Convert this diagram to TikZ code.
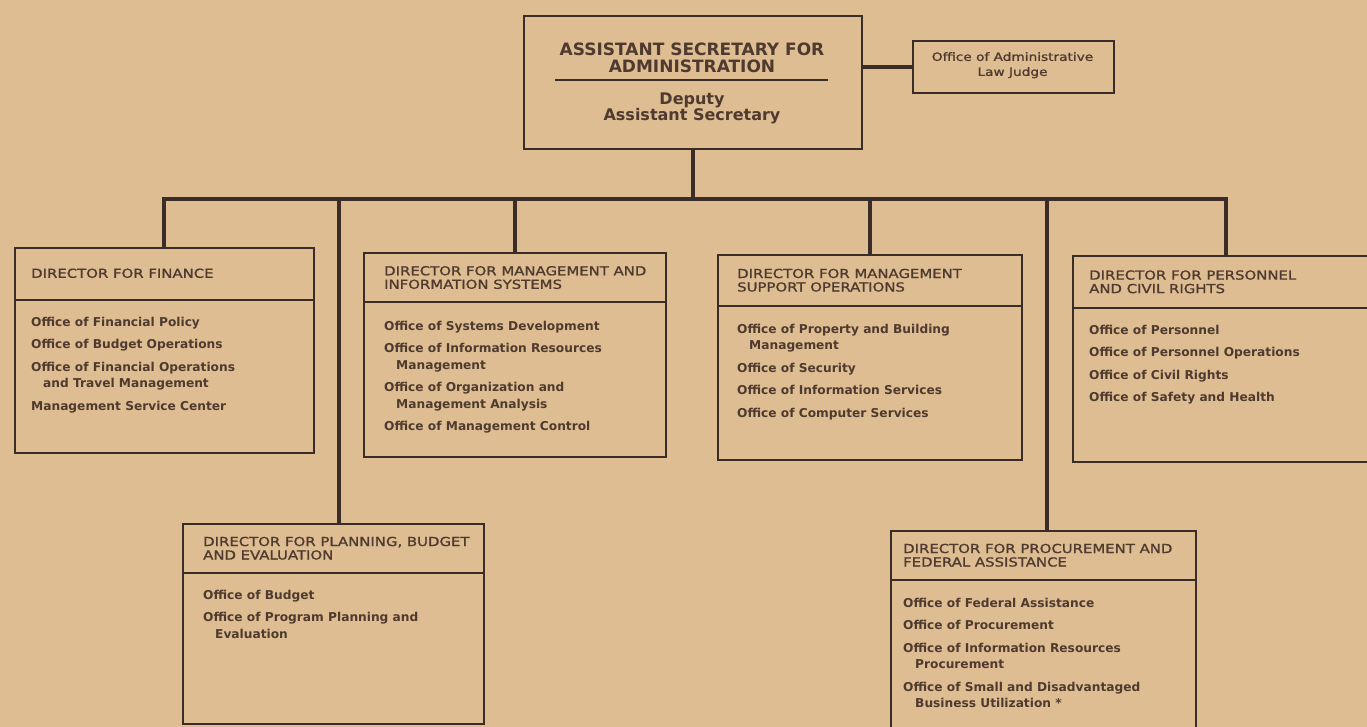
\documentclass[tikz,border=0pt]{standalone}
\usepackage{fontspec}
\setmainfont{DejaVu Sans}
\newfontfamily\hdrfont[FakeStretch=1.2,FakeBold=1.2]{DejaVu Sans}
\definecolor{paper}{RGB}{223,189,147}
\definecolor{ink}{RGB}{58,44,38}
\definecolor{txt}{RGB}{78,58,46}
\tikzset{
  box/.style={draw=ink, line width=1.7pt, inner sep=0pt, anchor=north west},
  divline/.style={draw=ink, line width=1.5pt},
  conn/.style={draw=ink, line width=4pt},
  hdr/.style={font=\hdrfont\fontsize{12.4}{13.5}\selectfont, text=txt, align=left, inner sep=0pt, anchor=north west},
  off/.style={font=\bfseries\fontsize{12.2}{16.5}\selectfont, text=txt, align=left, inner sep=0pt, anchor=north west},
}
\begin{document}
\begin{tikzpicture}[x=1pt,y=-1pt]
\useasboundingbox (0,0) rectangle (1367,727);
\clip (0,0) rectangle (1367,727);
\fill[paper] (0,0) rectangle (1367,727);

% top box
\node[box, minimum width=338, minimum height=133] (top) at (523,15) {};
\node[font=\bfseries\fontsize{17}{17}\selectfont, text=txt, align=center, inner sep=0pt, anchor=north] (title) at (692,42.5) {ASSISTANT SECRETARY FOR\\ADMINISTRATION};
\draw[divline] (555,80) -- (828,80);
\node[font=\bfseries\fontsize{16}{15}\selectfont, text=txt, align=center, inner sep=0pt, anchor=north] (deputy) at (692,92.5) {Deputy\\Assistant Secretary};

% ALJ
\node[box, minimum width=201, minimum height=52] (alj) at (912,40) {};
\node[font=\hdrfont\fontsize{11.4}{15}\selectfont, text=txt, align=center, inner sep=0pt, anchor=north] (aljt) at (1012.5,52) {Office of Administrative\\Law Judge};

% director boxes
\node[box, minimum width=299, minimum height=205] (fin) at (14,247) {};
\node[box, minimum width=302, minimum height=204] (mis) at (363,252) {};
\node[box, minimum width=304, minimum height=205] (mso) at (717,254) {};
\node[box, minimum width=306, minimum height=206] (pers) at (1072,255) {};
\node[box, minimum width=301, minimum height=200] (plan) at (182,523) {};
\node[box, minimum width=305, minimum height=210] (proc) at (890,530) {};

% dividers
\draw[divline] (fin.west |- 0,300) -- (fin.east |- 0,300);
\draw[divline] (mis.west |- 0,302) -- (mis.east |- 0,302);
\draw[divline] (mso.west |- 0,306) -- (mso.east |- 0,306);
\draw[divline] (pers.west |- 0,308) -- (pers.east |- 0,308);
\draw[divline] (plan.west |- 0,573) -- (plan.east |- 0,573);
\draw[divline] (proc.west |- 0,580) -- (proc.east |- 0,580);

% headers
\node[hdr] (finh) at (31,268.4) {DIRECTOR FOR FINANCE};
\node[hdr] (mish) at (384,265.9) {DIRECTOR FOR MANAGEMENT AND\\INFORMATION SYSTEMS};
\node[hdr] (msoh) at (737,268.6) {DIRECTOR FOR MANAGEMENT\\SUPPORT OPERATIONS};
\node[hdr] (persh) at (1089,270.2) {DIRECTOR FOR PERSONNEL\\AND CIVIL RIGHTS};
\node[hdr] (planh) at (203,536.6) {DIRECTOR FOR PLANNING, BUDGET\\AND EVALUATION};
\node[hdr] (proch) at (903,543.6) {DIRECTOR FOR PROCUREMENT AND\\FEDERAL ASSISTANCE};

% office lists
\node[off] (fino) at (31,317) {Office of Financial Policy\\[6pt]Office of Budget Operations\\[6pt]Office of Financial Operations\\\hspace*{12pt}and Travel Management\\[6pt]Management Service Center};
\node[off] (miso) at (384,321) {Office of Systems Development\\[6pt]Office of Information Resources\\\hspace*{12pt}Management\\[6pt]Office of Organization and\\\hspace*{12pt}Management Analysis\\[6pt]Office of Management Control};
\node[off] (msoo) at (737,324) {Office of Property and Building\\\hspace*{12pt}Management\\[6pt]Office of Security\\[6pt]Office of Information Services\\[6pt]Office of Computer Services};
\node[off] (perso) at (1089,325) {Office of Personnel\\[6pt]Office of Personnel Operations\\[6pt]Office of Civil Rights\\[6pt]Office of Safety and Health};
\node[off] (plano) at (203,590) {Office of Budget\\[6pt]Office of Program Planning and\\\hspace*{12pt}Evaluation};
\node[off] (proco) at (903,598) {Office of Federal Assistance\\[6pt]Office of Procurement\\[6pt]Office of Information Resources\\\hspace*{12pt}Procurement\\[6pt]Office of Small and Disadvantaged\\\hspace*{12pt}Business Utilization *};

% connectors
\coordinate (bus) at (692,199);
\draw[conn] (top.south) -- (top.south |- bus);
\draw[conn] (fin.north) |- (bus) -| (pers.north);
\draw[conn] (mis.north) -- (mis.north |- bus);
\draw[conn] (mso.north) -- (mso.north |- bus);
\draw[conn] ([xshift=6pt]plan.north) -- ([xshift=6pt]plan.north |- bus);
\draw[conn] ([xshift=4pt]proc.north) -- ([xshift=4pt]proc.north |- bus);
\draw[conn] (top.east |- alj.west) -- (alj.west);
\end{tikzpicture}
\end{document}
